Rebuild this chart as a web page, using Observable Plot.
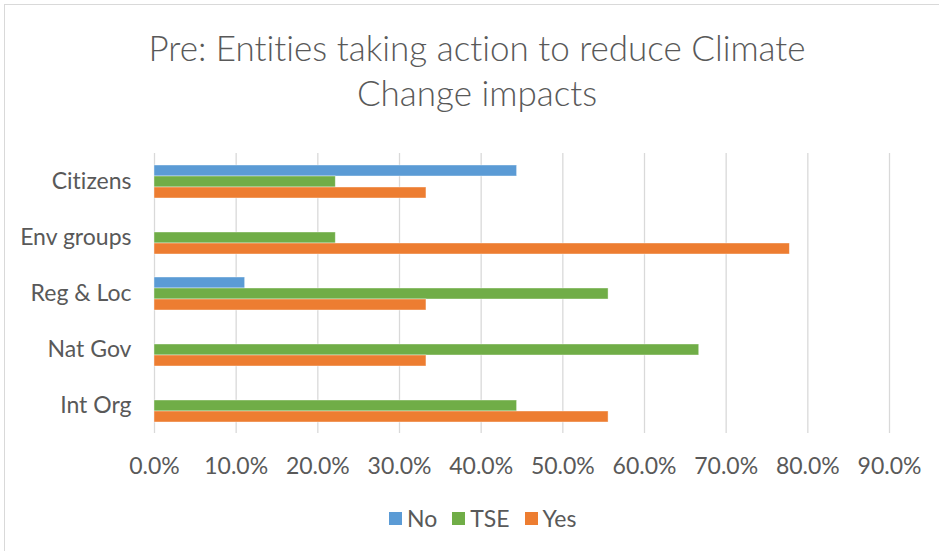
<!DOCTYPE html>
<html>
<head>
<meta charset="utf-8">
<script src="https://cdn.jsdelivr.net/npm/d3@7"></script>
<script src="https://cdn.jsdelivr.net/npm/@observablehq/plot@0.6"></script>
<style>
  html, body { margin: 0; padding: 0; background: #fff; }
  #chart {
    position: relative; width: 939px; height: 551px; overflow: hidden;
    font-family: Lato, Carlito, "Open Sans", sans-serif; color: #595959;
    font-variant-ligatures: none; font-feature-settings: "liga" 0;
  }
  #chart svg text { font-variant-ligatures: none; font-feature-settings: "liga" 0; }
  #frame {
    position: absolute; left: 4px; top: 4px; width: 960px; height: 580px;
    border: 1px solid #d9d9d9; box-sizing: border-box;
  }
  #title {
    position: absolute; left: 0; width: 954px; top: 25px;
    text-align: center; font-size: 35px; font-weight: 300; line-height: 45px;
  }
  #plot { position: absolute; left: 0; top: 0; }
  #legend {
    position: absolute; left: 389px; top: 505px; height: 26px;
    display: flex; align-items: center; font-size: 23px;
  }
  .key { display: flex; align-items: center; margin-right: 15px; }
  .swatch { width: 13px; height: 13px; margin-right: 5px; }
</style>
</head>
<body>
<div id="chart">
  <div id="frame"></div>
  <div id="plot"></div>
  <div id="title">Pre: Entities taking action to reduce Climate<br>Change impacts</div>
  <div id="legend"></div>
</div>
<script>
// Groups, top to bottom
const categories = ["Citizens", "Env groups", "Reg & Loc", "Nat Gov", "Int Org"];
// Answer series, in the order drawn within each group
const series = ["No", "TSE", "Yes"];
const seriesColors = ["#5B9BD5", "#70AD47", "#ED7D31"];
// Share of responses per group
const noValues  = [0.444, 0,     0.111, 0,     0];
const tseValues = [0.222, 0.222, 0.556, 0.667, 0.444];
const yesValues = [0.333, 0.778, 0.333, 0.333, 0.556];
// Axis ticks
const xTicks = [0, 0.1, 0.2, 0.3, 0.4, 0.5, 0.6, 0.7, 0.8, 0.9];

const valuesBySeries = {No: noValues, TSE: tseValues, Yes: yesValues};
const rows = categories.flatMap((category, i) =>
  series.map(s => ({category, series: s, value: valuesBySeries[s][i]}))
);

const chart = Plot.plot({
  width: 939,
  height: 551,
  marginLeft: 154,
  marginRight: 50,
  marginTop: 152,
  marginBottom: 118,
  style: {
    fontFamily: "Lato, Carlito, 'Open Sans', sans-serif",
    fontSize: "23px",
    color: "#595959",
    background: "transparent",
    overflow: "visible"
  },
  x: {
    domain: [0, 0.9],
    ticks: xTicks,
    tickFormat: d3.format(".1%"),
    tickSize: 0,
    tickPadding: 24,
    label: null
  },
  fy: {
    domain: categories,
    padding: 0,
    axis: "left",
    tickSize: 0,
    tickPadding: 23,
    label: null
  },
  y: {
    domain: series,
    paddingInner: 0,
    paddingOuter: 0.85,
    axis: null
  },
  color: {domain: series, range: seriesColors},
  marks: [
    Plot.ruleX(xTicks, {stroke: "#d9d9d9", strokeWidth: 1.3}),
    Plot.barX(rows, {
      filter: d => d.value > 0,
      x: "value",
      y: "series",
      fy: "category",
      fill: "series",
      stroke: "#ffffff",
      strokeOpacity: 0.5,
      strokeWidth: 0.8
    })
  ]
});
document.getElementById("plot").appendChild(chart);

// Legend row
const legend = document.getElementById("legend");
series.forEach((s, i) => {
  const key = document.createElement("div");
  key.className = "key";
  const sw = document.createElement("span");
  sw.className = "swatch";
  sw.style.background = seriesColors[i];
  const label = document.createElement("span");
  label.textContent = s;
  key.appendChild(sw);
  key.appendChild(label);
  legend.appendChild(key);
});
</script>
</body>
</html>
